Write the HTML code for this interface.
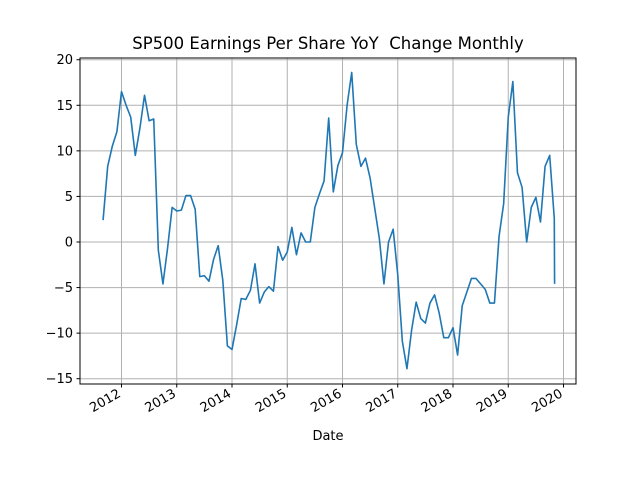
<!DOCTYPE html>
<html><head><meta charset="utf-8"><style>
body{margin:0;background:#fff}
svg{font-family:"DejaVu Sans","Liberation Sans",sans-serif}
</style></head><body>
<svg id="chart" width="640" height="480" viewBox="0 0 640 480" xmlns="http://www.w3.org/2000/svg">
<rect width="640" height="480" fill="#fff"/>
<text x="328" y="49" font-size="16.5" text-anchor="middle" style="white-space:pre">SP500 Earnings Per Share YoY &#160;Change Monthly</text>
<g id="grid"></g>
<g id="ticks"></g>
<path id="line" fill="none" stroke="#1f77b4" stroke-width="1.6" stroke-linejoin="round"/>
<rect x="80" y="58" width="496" height="326" fill="none" stroke="#000" stroke-width="1"/>
<text x="328" y="440" font-size="13" text-anchor="middle">Date</text>
</svg>
<script>
const startYear = 2011, startMonth = 9;
const values = [2.4,8.3,10.5,12.1,16.5,15.0,13.7,9.5,12.5,16.1,13.3,13.5,-0.9,-4.6,-0.7,3.8,3.4,3.5,5.1,5.1,3.6,-3.8,-3.7,-4.3,-1.9,-0.4,-4.2,-11.4,-11.8,-9.1,-6.2,-6.3,-5.3,
-2.4,-6.7,-5.5,-4.9,-5.4,-0.5,-2.0,-1.1,1.6,-1.4,1.0,0.0,0.0,3.8,5.3,6.7,13.6,5.5,8.4,9.8,15.0,18.6,10.7,8.3,9.2,7.0,3.7,0.4,-4.6,0.0,1.4,-3.6,-10.9,-13.9,-9.7,-6.6,-8.4,
-8.9,-6.7,-5.8,-7.8,-10.5,-10.5,-9.4,-12.4,-7.0,-5.5,-4.0,-4.0,-4.6,-5.2,-6.7,-6.7,0.6,4.2,13.7,17.6,7.6,6.0,0.0,3.8,4.9,2.2,8.3,9.5,2.6];
const lastValue = -4.6;
const yTicks = [-15,-10,-5,0,5,10,15,20];
const xTickYears = [2012,2013,2014,2015,2016,2017,2018,2019,2020];

const svg = document.getElementById('chart');
const NS = 'http://www.w3.org/2000/svg';
const L=80,R=576,T=58,B=384;
const xs = yr => 121.5 + (yr-2012)*55.25;
const ys = v => 242 - v*9.114;
const dateOf = i => startYear + (startMonth-1+i)/12;

const grid = document.getElementById('grid'), ticks = document.getElementById('ticks');
function mk(tag, attrs, parent){const e=document.createElementNS(NS,tag);for(const k in attrs)e.setAttribute(k,attrs[k]);parent.appendChild(e);return e;}
yTicks.forEach(v=>{
  const y=ys(v);
  const g=mk('line',{x1:L,x2:R,y1:y,y2:y,stroke:'#b0b0b0','stroke-width':1},grid);
  
  
  const t=mk('line',{x1:L-3.5,x2:L,y1:y,y2:y,stroke:'#000'},ticks);
  
  
  const lb=mk('text',{x:L-7,y:y+4.5,'font-size':13,'text-anchor':'end'},ticks);
  lb.textContent=v<0?'\u2212'+Math.abs(v):String(v);
  
  
});
xTickYears.forEach(yr=>{
  const x=xs(yr);
  const g=mk('line',{x1:x,x2:x,y1:T,y2:B,stroke:'#b0b0b0','stroke-width':1},grid);
  
  
  const t=mk('line',{x1:x,x2:x,y1:B,y2:B+3.5,stroke:'#000'},ticks);
  
  
  const lb=mk('text',{x:x,y:B+12,'font-size':13,'text-anchor':'end',transform:`rotate(-30 ${x} ${B+12})`},ticks);
  lb.textContent=String(yr);
  
  
});
let d='';
values.forEach((v,i)=>{d+=(i?'L':'M')+xs(dateOf(i)).toFixed(2)+','+ys(v).toFixed(2);});
d+='L'+(xs(dateOf(values.length-1))+0.3).toFixed(2)+','+ys(lastValue).toFixed(2);
document.getElementById('line').setAttribute('d',d);
</script>
</body></html>
